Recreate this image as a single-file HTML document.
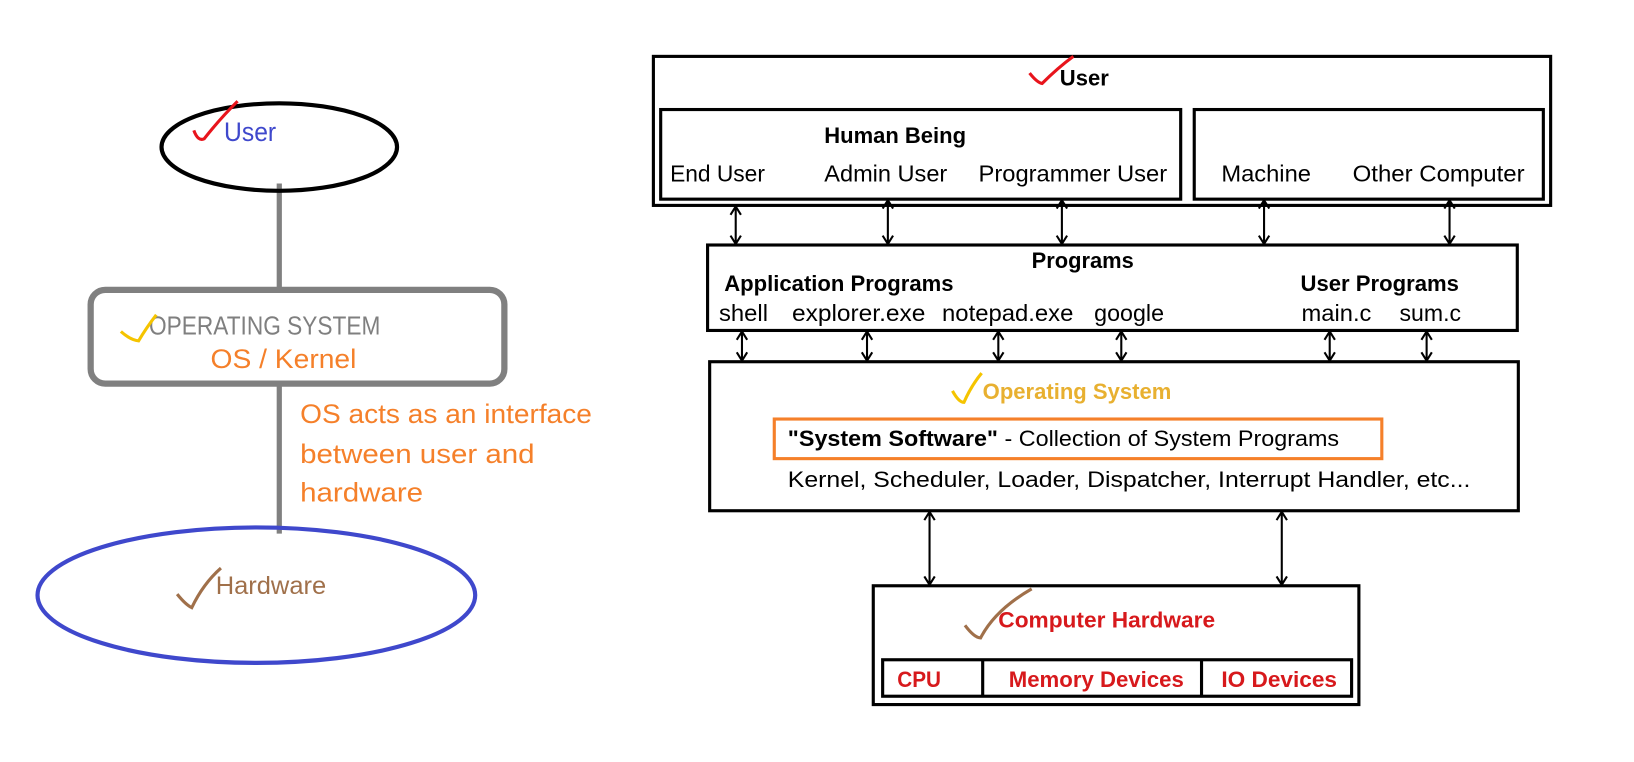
<!DOCTYPE html>
<html><head><meta charset="utf-8"><style>html,body{margin:0;padding:0;background:#fff}svg{display:block}</style></head><body>
<svg width="1634" height="762" viewBox="0 0 1568 731" xmlns="http://www.w3.org/2000/svg" font-family="Liberation Sans, sans-serif">
<rect width="1568" height="731" fill="#fff"/>
<!-- Left diagram -->
<line x1="268" y1="176" x2="268" y2="280" stroke="#808080" stroke-width="5"/>
<line x1="268" y1="366" x2="268" y2="512" stroke="#808080" stroke-width="5"/>
<ellipse cx="268" cy="141" rx="113" ry="42" fill="none" stroke="#000" stroke-width="4"/>
<text x="215" y="135" font-size="26" fill="#3f48cc" textLength="50" lengthAdjust="spacingAndGlyphs">User</text>
<path d="M186 125 Q190 136 196 133 Q210 115 228 97" fill="none" stroke="#e8141c" stroke-width="3"/>
<rect x="87" y="278" width="397" height="90" rx="14" fill="none" stroke="#808080" stroke-width="6"/>
<text x="143" y="321" font-size="25" fill="#7f7f7f" textLength="222" lengthAdjust="spacingAndGlyphs">OPERATING SYSTEM</text>
<path d="M116 318 Q125 326 133 327 Q140 315 150 302" fill="none" stroke="#f5c400" stroke-width="3"/>
<text x="202" y="353" font-size="26" fill="#f5802a" textLength="140" lengthAdjust="spacingAndGlyphs">OS / Kernel</text>
<text font-size="26" fill="#f5802a" lengthAdjust="spacingAndGlyphs"><tspan x="288" y="406" textLength="280" lengthAdjust="spacingAndGlyphs">OS acts as an interface</tspan><tspan x="288" y="444" textLength="225" lengthAdjust="spacingAndGlyphs">between user and</tspan><tspan x="288" y="481" textLength="118" lengthAdjust="spacingAndGlyphs">hardware</tspan></text>
<ellipse cx="246" cy="571" rx="210" ry="65" fill="none" stroke="#3f48cc" stroke-width="4"/>
<text x="207" y="570" font-size="24" fill="#a0704a" textLength="106" lengthAdjust="spacingAndGlyphs">Hardware</text>
<path d="M170 570 Q178 580 184 583 Q195 560 212 545" fill="none" stroke="#a0704a" stroke-width="3"/>
<!-- Right diagram -->
<g fill="none" stroke="#000" stroke-width="3">
<rect x="627" y="54" width="861" height="143"/>
<rect x="634" y="105" width="499" height="86"/>
<rect x="1146" y="105" width="335" height="86"/>
<rect x="679" y="235" width="777" height="82"/>
<rect x="681" y="347" width="776" height="143"/>
<rect x="838" y="562" width="466" height="114"/>
<rect x="847" y="633" width="450" height="35"/>
<line x1="943" y1="633" x2="943" y2="668"/>
<line x1="1153" y1="633" x2="1153" y2="668"/>
</g>
<rect x="743" y="402" width="583" height="38" fill="none" stroke="#f5802a" stroke-width="3"/>
<g stroke="#000" stroke-width="2" fill="none">
<path d="M706 198V234M701 206l5-8 5 8M701 226l5 8 5-8"/>
<path d="M852 192V234M847 200l5-8 5 8M847 226l5 8 5-8"/>
<path d="M1019 192V234M1014 200l5-8 5 8M1014 226l5 8 5-8"/>
<path d="M1213 192V234M1208 200l5-8 5 8M1208 226l5 8 5-8"/>
<path d="M1391 192V234M1386 200l5-8 5 8M1386 226l5 8 5-8"/>
<path d="M712 318V346M707 326l5-8 5 8M707 338l5 8 5-8"/>
<path d="M832 318V346M827 326l5-8 5 8M827 338l5 8 5-8"/>
<path d="M958 318V346M953 326l5-8 5 8M953 338l5 8 5-8"/>
<path d="M1076 318V346M1071 326l5-8 5 8M1071 338l5 8 5-8"/>
<path d="M1276 318V346M1271 326l5-8 5 8M1271 338l5 8 5-8"/>
<path d="M1369 318V346M1364 326l5-8 5 8M1364 338l5 8 5-8"/>
<path d="M892 491V561M887 499l5-8 5 8M887 553l5 8 5-8"/>
<path d="M1230 491V561M1225 499l5-8 5 8M1225 553l5 8 5-8"/>
</g>
<g font-size="21" fill="#000">
<text x="1017" y="82" font-weight="bold" textLength="47" lengthAdjust="spacingAndGlyphs">User</text>
<text x="791" y="137" font-weight="bold" textLength="136" lengthAdjust="spacingAndGlyphs">Human Being</text>
<text x="643" y="174" font-size="22" textLength="91" lengthAdjust="spacingAndGlyphs">End User</text>
<text x="791" y="174" font-size="22" textLength="118" lengthAdjust="spacingAndGlyphs">Admin User</text>
<text x="939" y="174" font-size="22" textLength="181" lengthAdjust="spacingAndGlyphs">Programmer User</text>
<text x="1172" y="174" font-size="22" textLength="86" lengthAdjust="spacingAndGlyphs">Machine</text>
<text x="1298" y="174" font-size="22" textLength="165" lengthAdjust="spacingAndGlyphs">Other Computer</text>
<text x="990" y="257" font-weight="bold" textLength="98" lengthAdjust="spacingAndGlyphs">Programs</text>
<text x="695" y="279" font-weight="bold" textLength="220" lengthAdjust="spacingAndGlyphs">Application Programs</text>
<text x="1248" y="279" font-weight="bold" textLength="152" lengthAdjust="spacingAndGlyphs">User Programs</text>
<text x="690" y="308" font-size="22" textLength="47" lengthAdjust="spacingAndGlyphs">shell</text>
<text x="760" y="308" font-size="22" textLength="128" lengthAdjust="spacingAndGlyphs">explorer.exe</text>
<text x="904" y="308" font-size="22" textLength="126" lengthAdjust="spacingAndGlyphs">notepad.exe</text>
<text x="1050" y="308" font-size="22" textLength="67" lengthAdjust="spacingAndGlyphs">google</text>
<text x="1249" y="308" font-size="22" textLength="67" lengthAdjust="spacingAndGlyphs">main.c</text>
<text x="1343" y="308" font-size="22" textLength="59" lengthAdjust="spacingAndGlyphs">sum.c</text>
<text x="943" y="383" font-weight="bold" fill="#e8b030" textLength="181" lengthAdjust="spacingAndGlyphs">Operating System</text>
<text x="756" y="428" textLength="529" lengthAdjust="spacingAndGlyphs"><tspan font-weight="bold">"System Software"</tspan> - Collection of System Programs</text>
<text x="756" y="467" textLength="655" lengthAdjust="spacingAndGlyphs">Kernel, Scheduler, Loader, Dispatcher, Interrupt Handler, etc...</text>
<text x="958" y="602" font-weight="bold" fill="#d7191c" textLength="208" lengthAdjust="spacingAndGlyphs">Computer Hardware</text>
<text x="861" y="659" font-weight="bold" fill="#d7191c" textLength="42" lengthAdjust="spacingAndGlyphs">CPU</text>
<text x="968" y="659" font-weight="bold" fill="#d7191c" textLength="168" lengthAdjust="spacingAndGlyphs">Memory Devices</text>
<text x="1172" y="659" font-weight="bold" fill="#d7191c" textLength="111" lengthAdjust="spacingAndGlyphs">IO Devices</text>
</g>
<path d="M988 70 Q995 79 1000 80 Q1015 65 1030 54" fill="none" stroke="#e8141c" stroke-width="3"/>
<path d="M914 375 Q920 386 925 386 Q932 370 942 358" fill="none" stroke="#f5c400" stroke-width="3"/>
<path d="M926 600 Q935 612 941 612 Q955 585 990 565" fill="none" stroke="#a0704a" stroke-width="3"/>
</svg>
</body></html>
